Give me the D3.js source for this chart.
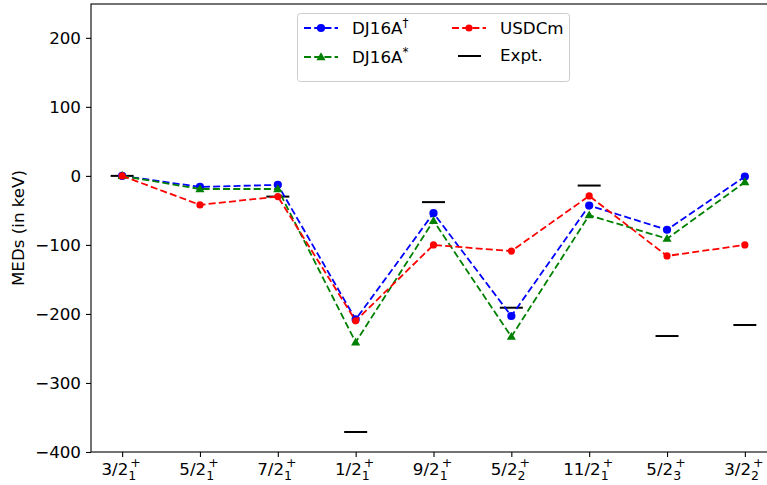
<!DOCTYPE html>
<meta charset="utf-8">
<head>
  <script src="https://d3js.org/d3.v7.min.js"></script>
  <style>
    body { margin: 0; background: #fff; }
    text { font-family: "DejaVu Sans", sans-serif; }
  </style>
</head>
<body>
<svg width="767" height="485"></svg>
<script>
// states along the x axis: [J, subscript]
var states = [["3/2", "1"], ["5/2", "1"], ["7/2", "1"], ["1/2", "1"], ["9/2", "1"],
              ["5/2", "2"], ["11/2", "1"], ["5/2", "3"], ["3/2", "2"]];

var dj16aDagger = [0, -16, -13, -208, -54, -203, -43, -78, -1];
var dj16aStar   = [0, -19, -19, -241, -65, -233, -57, -91, -9];
var usdcm       = [0, -42, -30, -210, -100, -109, -29, -116, -100];
var expt        = [0, null, -30, -371, -38, -191, -14, -232, -216];

var yTicks = [-400, -300, -200, -100, 0, 100, 200];

var svg = d3.select("svg"),
    plotLeft = 91, plotRight = 776, plotTop = 4, plotBottom = 452;

var x = d3.scaleLinear().domain([-0.4, 8.4]).range([plotLeft, plotRight]);
var y = d3.scaleLinear().domain([-400, 249]).range([plotBottom, plotTop]);

// frame
svg.append("rect")
  .attr("x", plotLeft).attr("y", plotTop)
  .attr("width", plotRight - plotLeft).attr("height", plotBottom - plotTop)
  .attr("fill", "none").attr("stroke", "#000").attr("stroke-width", 1.1);

// y axis
var yAxis = svg.append("g")
  .attr("transform", "translate(" + plotLeft + ",0)")
  .call(d3.axisLeft(y).tickValues(yTicks).tickSize(5).tickPadding(5)
        .tickFormat(function(d) { return d < 0 ? "\u2212" + (-d) : d; }));
yAxis.select(".domain").remove();
yAxis.selectAll("line").attr("stroke-width", 1.1);
yAxis.selectAll("text").attr("font-size", 16.7).attr("font-family", "DejaVu Sans").attr("fill", "#000");

svg.append("text")
  .attr("transform", "translate(24," + (plotTop + plotBottom) / 2 + ") rotate(-90)")
  .attr("text-anchor", "middle")
  .attr("font-size", 16.7)
  .text("MEDs (in keV)");

// x axis
var xAxis = svg.append("g")
  .attr("transform", "translate(0," + plotBottom + ")")
  .call(d3.axisBottom(x).tickValues(d3.range(states.length)).tickSize(5).tickFormat(""));
xAxis.select(".domain").remove();
xAxis.selectAll("line").attr("stroke-width", 1.1);

states.forEach(function(s, i) {
  var t = svg.append("text")
    .attr("x", x(i) - 1).attr("y", 475)
    .attr("text-anchor", "middle")
    .attr("font-size", 16.7);
  t.append("tspan").text(s[0]);
  t.append("tspan").attr("font-size", 12.5).attr("dy", 5).text(s[1]);
  t.append("tspan").attr("font-size", 12.5).attr("dx", -6).attr("dy", -13).text("+");
});

// experiment bars
svg.append("g").selectAll("line")
  .data(expt.map(function(v, i) { return {i: i, v: v}; }).filter(function(d) { return d.v !== null; }))
  .enter().append("line")
  .attr("x1", function(d) { return x(d.i) - 11.5; })
  .attr("x2", function(d) { return x(d.i) + 11.5; })
  .attr("y1", function(d) { return y(d.v); })
  .attr("y2", function(d) { return y(d.v); })
  .attr("stroke", "#000").attr("stroke-width", 2);

var series = [
  {name: "DJ16A", sup: "\u2020", values: dj16aDagger, color: "blue", marker: "circle"},
  {name: "DJ16A", sup: "*", values: dj16aStar, color: "green", marker: "triangle"},
  {name: "USDCm", sup: "", values: usdcm, color: "red", marker: "small"}
];

var line = d3.line()
  .x(function(d, i) { return x(i); })
  .y(function(d) { return y(d); });

function drawMarker(g, kind, cx, cy, color) {
  if (kind === "triangle") {
    g.append("path")
      .attr("d", d3.symbol().type(d3.symbolTriangle).size(36)())
      .attr("transform", "translate(" + cx + "," + (cy + 0.5) + ")")
      .attr("fill", color);
  } else {
    g.append("circle")
      .attr("cx", cx).attr("cy", cy)
      .attr("r", kind === "circle" ? 4.1 : 3.6)
      .attr("fill", color);
  }
}

series.forEach(function(s) {
  var g = svg.append("g");
  g.append("path")
    .datum(s.values)
    .attr("d", line)
    .attr("fill", "none")
    .attr("stroke", s.color)
    .attr("stroke-width", 1.8)
    .attr("stroke-dasharray", "7,3.2");
  s.values.forEach(function(v, i) { drawMarker(g, s.marker, x(i), y(v), s.color); });
});

// legend
var lg = svg.append("g");
lg.append("rect")
  .attr("x", 297.5).attr("y", 13.5).attr("width", 272).attr("height", 68)
  .attr("rx", 3).attr("fill", "#fff").attr("fill-opacity", 0.8)
  .attr("stroke", "#ccc").attr("stroke-width", 1);

var items = [
  {s: series[0], x: 304, y: 28},
  {s: series[1], x: 304, y: 57},
  {s: series[2], x: 452, y: 28},
  {s: null, x: 452, y: 57}
];

items.forEach(function(it) {
  if (it.s) {
    lg.append("line")
      .attr("x1", it.x).attr("x2", it.x + 34)
      .attr("y1", it.y).attr("y2", it.y)
      .attr("stroke", it.s.color).attr("stroke-width", 1.8)
      .attr("stroke-dasharray", "7,3.2");
    drawMarker(lg, it.s.marker, it.x + 17, it.y, it.s.color);
    var t = lg.append("text")
      .attr("x", it.x + 48).attr("y", it.y + 6)
      .attr("font-size", 16.7);
    t.append("tspan").text(it.s.name);
    if (it.s.sup) t.append("tspan").attr("font-size", 12).attr("dy", -7).text(it.s.sup);
  } else {
    lg.append("line")
      .attr("x1", it.x + 6).attr("x2", it.x + 29)
      .attr("y1", it.y - 1).attr("y2", it.y - 1)
      .attr("stroke", "#000").attr("stroke-width", 2);
    lg.append("text")
      .attr("x", it.x + 48).attr("y", it.y + 4)
      .attr("font-size", 16.7)
      .text("Expt.");
  }
});
</script>
</body>
